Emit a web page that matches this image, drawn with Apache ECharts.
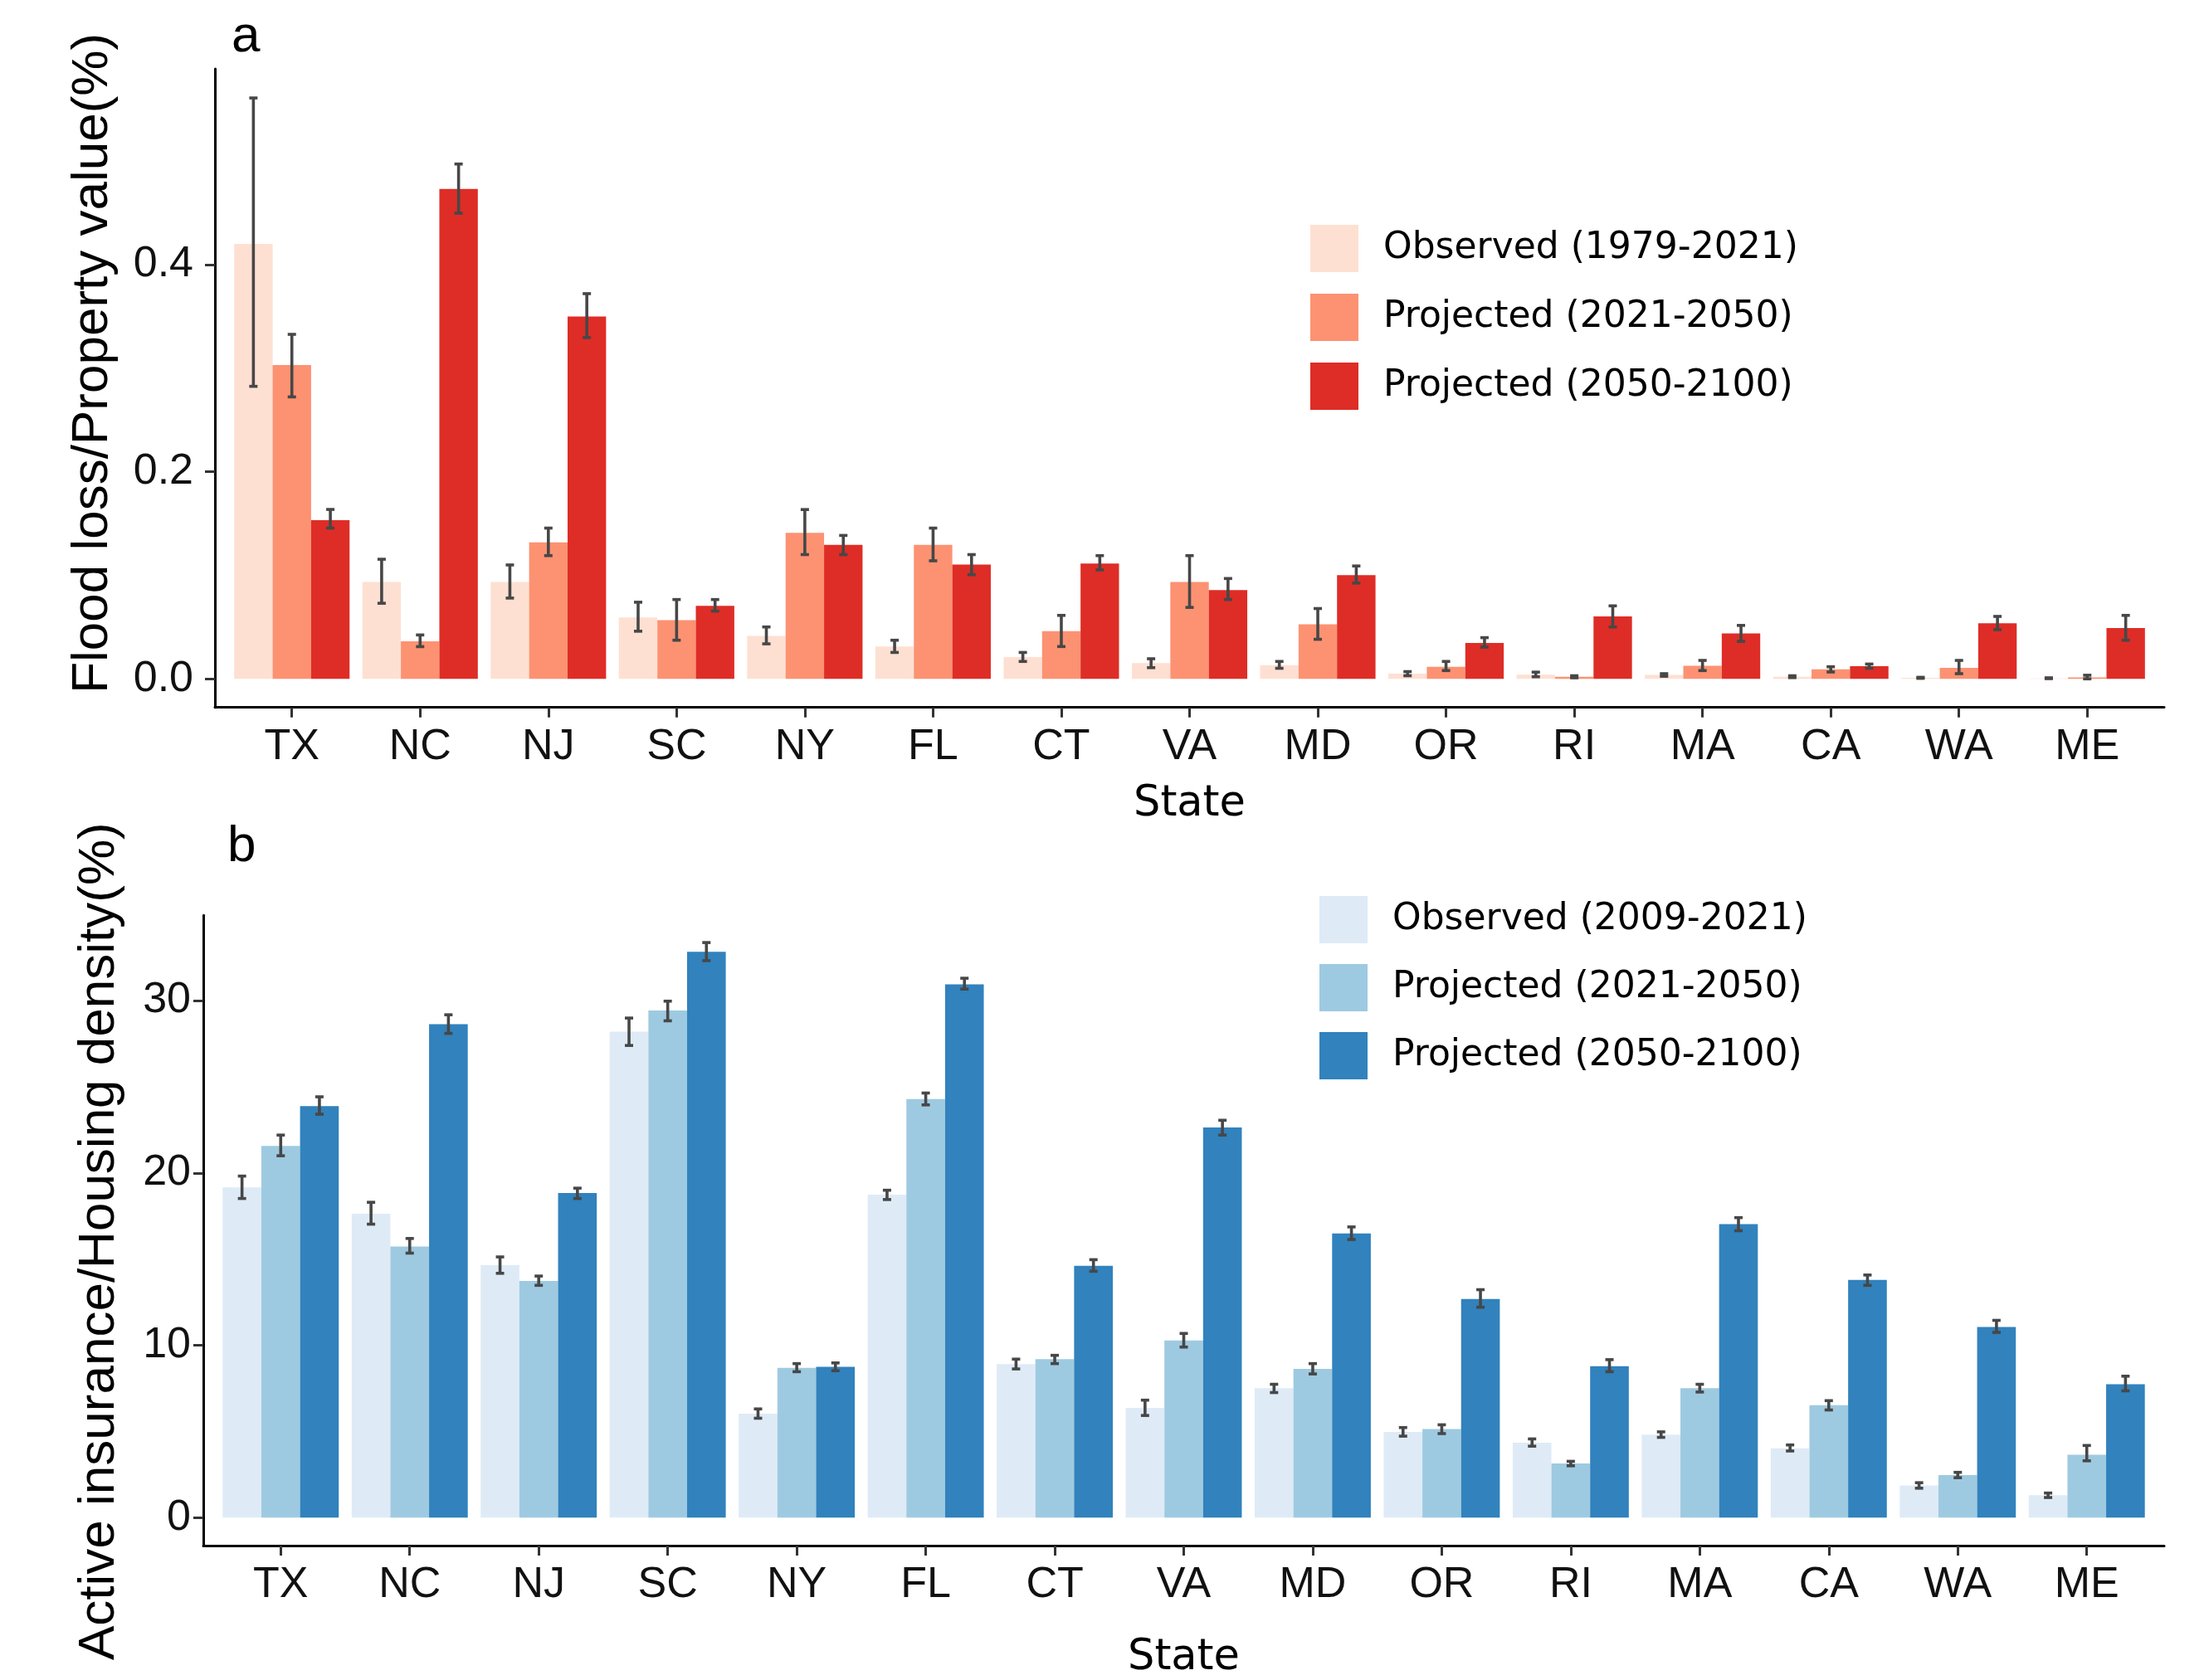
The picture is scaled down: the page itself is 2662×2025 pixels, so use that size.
<!DOCTYPE html>
<html><head><meta charset="utf-8">
<script src="https://cdn.jsdelivr.net/npm/echarts@6/dist/echarts.min.js"></script>
<style>html,body{margin:0;padding:0;background:#fff}#chart{width:2662px;height:2025px}</style>
</head><body><div id="chart"></div>
<script>
const states = ['TX','NC','NJ','SC','NY','FL','CT','VA','MD','OR','RI','MA','CA','WA','ME'];
const stateTicks = [0,1,2,3,4,5,6,7,8,9,10,11,12,13,14];

// Panel a: Flood loss / Property value (%)
const lossSeriesNames = ['Observed (1979-2021)','Projected (2021-2050)','Projected (2050-2100)'];
const lossObs   = [0.420,0.0935,0.0935,0.0592,0.0414,0.0312,0.021,0.0153,0.0132,0.005,0.004,0.0038,0.002,0.001,0.0005];
const lossObsLo = [0.2825,0.073,0.078,0.046,0.0338,0.0255,0.0168,0.0108,0.0102,0.003,0.002,0.0025,0.0012,0.0005,0.0002];
const lossObsHi = [0.561,0.1155,0.110,0.074,0.0501,0.0373,0.0255,0.0194,0.0168,0.007,0.0065,0.005,0.003,0.0015,0.001];
const lossP1    = [0.303,0.0362,0.1318,0.0567,0.141,0.1293,0.046,0.0935,0.0526,0.0117,0.002,0.0127,0.0092,0.0107,0.0015];
const lossP1Lo  = [0.2723,0.0311,0.119,0.0373,0.12,0.114,0.0312,0.069,0.0382,0.008,0.001,0.008,0.0066,0.005,0.0];
const lossP1Hi  = [0.3327,0.0424,0.1456,0.0766,0.1635,0.1456,0.0613,0.119,0.0679,0.0168,0.003,0.0178,0.0117,0.0178,0.0035];
const lossP2    = [0.1532,0.4732,0.350,0.0705,0.1293,0.1103,0.1114,0.0858,0.1001,0.0347,0.0603,0.0439,0.0122,0.0536,0.049];
const lossP2Lo  = [0.1456,0.4497,0.3296,0.0654,0.12,0.1006,0.1052,0.0766,0.0925,0.0306,0.0501,0.0362,0.0102,0.0475,0.0373];
const lossP2Hi  = [0.1636,0.4972,0.372,0.0766,0.1385,0.12,0.119,0.0969,0.109,0.0398,0.0705,0.0516,0.0143,0.0603,0.0613];
const lossTicks = [0, 0.2, 0.4];

// Panel b: Active insurance / Housing density (%)
const insSeriesNames = ['Observed (2009-2021)','Projected (2021-2050)','Projected (2050-2100)'];
const insObs   = [19.16,17.63,14.65,28.2,6.03,18.74,8.91,6.37,7.52,4.98,4.35,4.82,4.03,1.87,1.30];
const insObsLo = [18.52,17.03,14.18,27.4,5.77,18.46,8.63,5.93,7.26,4.73,4.15,4.66,3.87,1.71,1.17];
const insObsHi = [19.82,18.3,15.13,28.99,6.31,19.0,9.2,6.82,7.74,5.23,4.57,4.98,4.22,2.03,1.43];
const insP1    = [21.57,15.73,13.73,29.43,8.69,24.29,9.2,10.28,8.63,5.14,3.14,7.52,6.53,2.47,3.65];
const insP1Lo  = [21.0,15.35,13.48,28.83,8.47,23.95,8.94,9.9,8.34,4.88,3.01,7.29,6.25,2.32,3.3];
const insP1Hi  = [22.2,16.2,14.02,29.97,8.94,24.64,9.42,10.69,8.94,5.39,3.27,7.74,6.79,2.63,4.19];
const insP2    = [23.88,28.64,18.84,32.83,8.75,30.95,14.62,22.64,16.49,12.69,8.79,17.03,13.8,11.07,7.74];
const insP2Lo  = [23.41,28.1,18.52,32.32,8.53,30.67,14.3,22.2,16.14,12.21,8.47,16.65,13.48,10.75,7.36];
const insP2Hi  = [24.42,29.18,19.12,33.37,8.98,31.3,14.97,23.06,16.87,13.23,9.17,17.41,14.08,11.45,8.21];
const insTicks = [0, 10, 20, 30];

const reds  = ['#FEE0D2','#FC9272','#DE2D26'];
const blues = ['#DEEBF7','#9ECAE1','#3182BD'];
const offsets = [-0.45, -0.15, 0.15];
const BARW = 0.3;

function makeSeries(name, idx, vals, lo, hi, color, offset) {
  return {
    type: 'custom', name: name, xAxisIndex: idx, yAxisIndex: idx,
    itemStyle: { color: color },
    encode: { x: 0, y: 1 },
    data: states.map((s, i) => [i, vals[i], lo[i], hi[i]]),
    renderItem: function (params, api) {
      const i = api.value(0), v = api.value(1), l = api.value(2), h = api.value(3);
      const tl = api.coord([i + offset, v]);
      const br = api.coord([i + offset + BARW, 0]);
      const cx = (tl[0] + br[0]) / 2;
      const yl = api.coord([i, l])[1], yh = api.coord([i, h])[1];
      const cap = 5;
      const es = { stroke: '#474747', lineWidth: 3.6 };
      return { type: 'group', children: [
        { type: 'rect', shape: { x: tl[0], y: tl[1], width: br[0] - tl[0], height: br[1] - tl[1] }, style: { fill: color } },
        { type: 'line', shape: { x1: cx, y1: yl, x2: cx, y2: yh }, style: es },
        { type: 'line', shape: { x1: cx - cap, y1: yl, x2: cx + cap, y2: yl }, style: es },
        { type: 'line', shape: { x1: cx - cap, y1: yh, x2: cx + cap, y2: yh }, style: es }
      ]};
    }
  };
}

const tickFont = { fontSize: 52, fontFamily: 'Liberation Sans', color: '#111' };

function xAxisCfg(idx, gap) {
  return {
    type: 'value', gridIndex: idx, min: -0.6, max: 14.6,
    axisLine: { show: true, onZero: false, lineStyle: { color: '#000', width: 3 } },
    axisTick: { show: true, customValues: stateTicks, length: 12, lineStyle: { color: '#333', width: 3 } },
    axisLabel: Object.assign({ customValues: stateTicks, formatter: v => states[Math.round(v)], margin: 22 }, tickFont),
    splitLine: { show: false },
    name: 'State', nameLocation: 'middle', nameGap: gap,
    nameTextStyle: { fontSize: 51, fontFamily: 'DejaVu Sans', color: '#000' }
  };
}

function yAxisCfg(idx, min, max, ticks, fmt, margin, name, gap, pad) {
  return {
    type: 'value', gridIndex: idx, min: min, max: max,
    axisLine: { show: true, onZero: false, lineStyle: { color: '#000', width: 3 } },
    axisTick: { show: true, customValues: ticks, length: 12, lineStyle: { color: '#333', width: 3 } },
    axisLabel: Object.assign({ customValues: ticks, formatter: fmt, margin: margin }, tickFont),
    splitLine: { show: false },
    name: name, nameLocation: 'middle', nameGap: gap,
    nameTextStyle: { fontSize: 62, fontFamily: 'Liberation Sans', color: '#000', padding: pad }
  };
}

const chart = echarts.init(document.getElementById('chart'), null, { renderer: 'canvas' });
chart.setOption({
  backgroundColor: '#fff',
  animation: false,
  grid: [
    { left: 259, top: 83, width: 2349, height: 769.7 },
    { left: 245, top: 1103.3, width: 2363, height: 768.4 }
  ],
  xAxis: [xAxisCfg(0, 92), xAxisCfg(1, 110)],
  yAxis: [
    yAxisCfg(0, -0.0276, 0.5891, lossTicks, v => v.toFixed(1), 26, 'Flood loss/Property value(%)', 116, [0, 0, 0, 60]),
    yAxisCfg(1, -1.62, 34.95, insTicks, v => String(v), 15, 'Active insurance/Housing density(%)', 94, [0, 26, 0, 0])
  ],
  legend: [
    { orient: 'vertical', left: 1574, top: 266, itemWidth: 58, itemHeight: 57, itemGap: 26, icon: 'rect',
      selectedMode: false,
      textStyle: { fontSize: 44, fontFamily: 'DejaVu Sans', color: '#000', padding: [0, 0, 0, 25] },
      data: lossSeriesNames.map((n, k) => ({ name: n, itemStyle: { color: reds[k] } })) },
    { orient: 'vertical', left: 1585, top: 1075, itemWidth: 58, itemHeight: 57, itemGap: 25, icon: 'rect',
      selectedMode: false,
      textStyle: { fontSize: 44, fontFamily: 'DejaVu Sans', color: '#000', padding: [0, 0, 0, 25] },
      data: insSeriesNames.map((n, k) => ({ name: n, itemStyle: { color: blues[k] } })) }
  ],
  graphic: [
    { type: 'text', left: 279, top: 14, style: { text: 'a', font: '62px "Liberation Sans"', fill: '#000' } },
    { type: 'text', left: 274, top: 990, style: { text: 'b', font: '62px "Liberation Sans"', fill: '#000' } }
  ],
  series: [
    makeSeries(lossSeriesNames[0], 0, lossObs, lossObsLo, lossObsHi, reds[0], offsets[0]),
    makeSeries(lossSeriesNames[1], 0, lossP1, lossP1Lo, lossP1Hi, reds[1], offsets[1]),
    makeSeries(lossSeriesNames[2], 0, lossP2, lossP2Lo, lossP2Hi, reds[2], offsets[2]),
    makeSeries(insSeriesNames[0], 1, insObs, insObsLo, insObsHi, blues[0], offsets[0]),
    makeSeries(insSeriesNames[1], 1, insP1, insP1Lo, insP1Hi, blues[1], offsets[1]),
    makeSeries(insSeriesNames[2], 1, insP2, insP2Lo, insP2Hi, blues[2], offsets[2])
  ]
});
</script></body></html>
